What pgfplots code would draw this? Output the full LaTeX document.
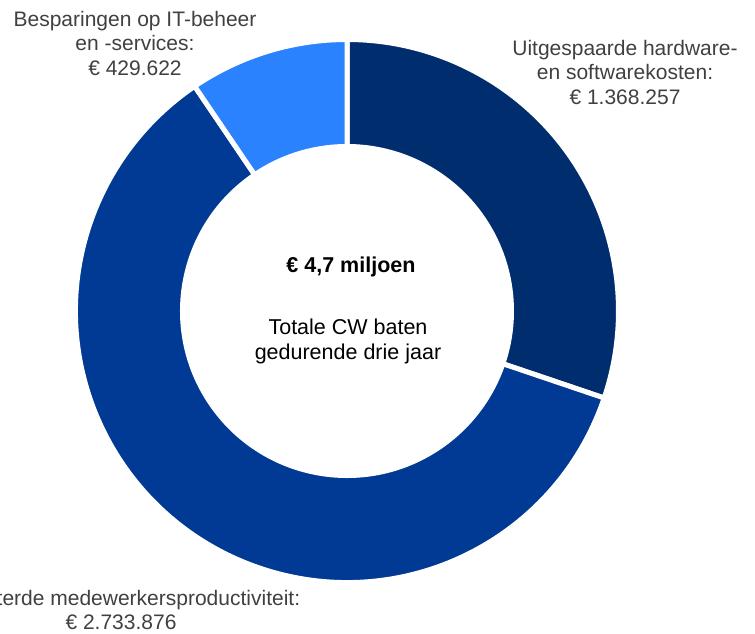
\documentclass[border=0pt]{standalone}
\usepackage{pgfplots}
\pgfplotsset{compat=1.18}
\usepackage{pgfplotstable}
\usepackage{fontspec}
\setmainfont{Liberation Sans}
\usetikzlibrary{calc}
\definecolor{c1}{HTML}{002D6E}
\definecolor{c2}{HTML}{003A94}
\definecolor{c3}{HTML}{2A82FF}
\definecolor{lbl}{HTML}{404040}
\pgfplotstableread{
value col
1368257 c1
2733876 c2
429622 c3
}\slices
\begin{document}
\begin{tikzpicture}
\begin{axis}[x=0.5pt,y=0.5pt,xmin=0,xmax=755,ymin=0,ymax=633,hide axis,clip=false]
\def\total{0}
\pgfplotsforeachungrouped \i in {0,...,2}{%
 \pgfplotstablegetelem{\i}{value}\of\slices
 \edef\total{\fpeval{\total+\pgfplotsretval}}%
}
\def\startang{90}
\pgfplotsforeachungrouped \i in {0,...,2}{%
 \pgfplotstablegetelem{\i}{value}\of\slices \edef\v{\pgfplotsretval}%
 \pgfplotstablegetelem{\i}{col}\of\slices \edef\c{\pgfplotsretval}%
 \edef\endang{\fpeval{\startang-360*\v/\total}}%
 \edef\cmd{\noexpand\filldraw[fill=\c,draw=white,line width=2.5pt,line join=miter] ($(axis cs:347,322)+(\startang:135.75pt)$) arc[start angle=\startang,end angle=\endang,radius=135.75pt] -- ($(axis cs:347,322)+(\endang:82.25pt)$) arc[start angle=\endang,end angle=\startang,radius=82.25pt] -- cycle;}%
 \cmd
 \edef\startang{\endang}%
}
\node[align=center,text=lbl,font=\fontsize{10.5}{12.25}\selectfont] at (axis cs:135,590) {Besparingen op IT-beheer\\en -services:\\€ 429.622};
\node[align=center,text=lbl,font=\fontsize{10.5}{12.25}\selectfont] at (axis cs:625,561) {Uitgespaarde hardware-\\en softwarekosten:\\€ 1.368.257};
\node[align=center,text=lbl,font=\fontsize{10.5}{12.25}\selectfont] at (axis cs:121,23) {Verbeterde medewerkersproductiviteit:\\€ 2.733.876};
\node[font=\bfseries\fontsize{10.75}{12.5}\selectfont] at (axis cs:351,366) {€ 4,7 miljoen};
\node[align=center,font=\fontsize{10.75}{12.5}\selectfont] at (axis cs:348,292) {Totale CW baten\\gedurende drie jaar};
\end{axis}
\pgfresetboundingbox
\path[use as bounding box] (0,0) rectangle (377.5pt,316.5pt);
\end{tikzpicture}
\end{document}
